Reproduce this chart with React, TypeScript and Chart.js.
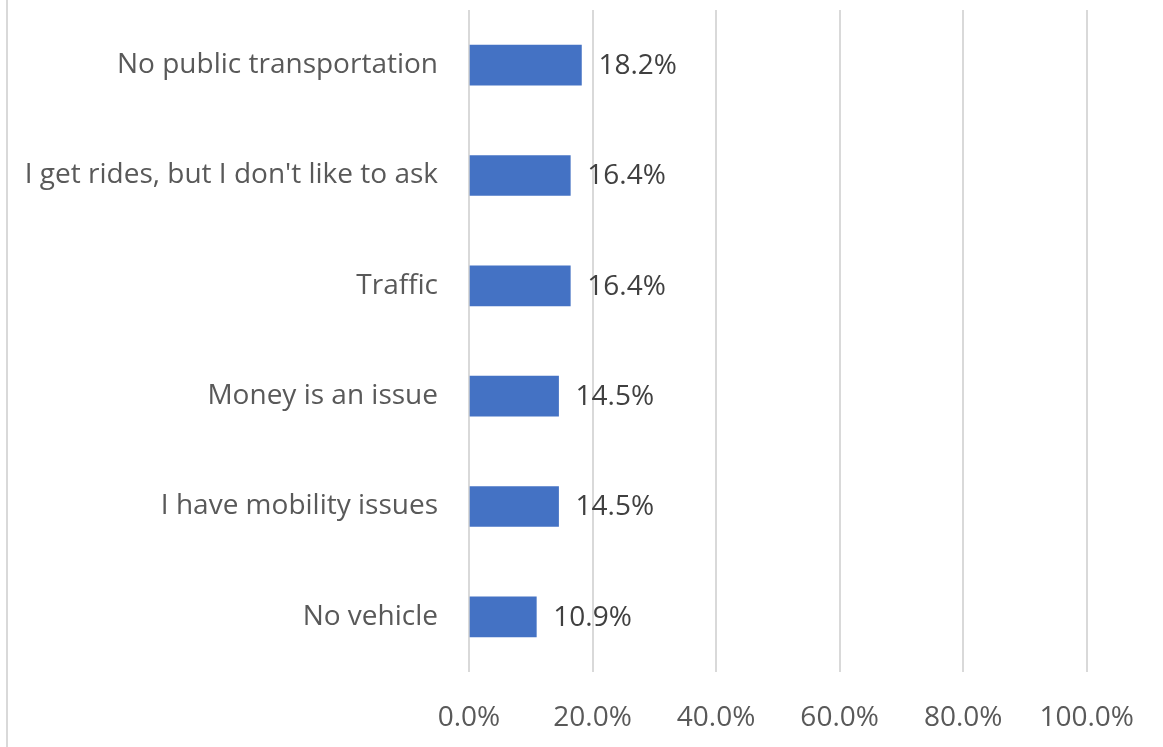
import React, { useEffect, useRef } from "react";
import { Chart, registerables } from "chart.js";

Chart.register(...registerables);

const categories = [
  "No public transportation",
  "I get rides, but I don't like to ask",
  "Traffic",
  "Money is an issue",
  "I have mobility issues",
  "No vehicle",
];
const values = [18.2, 16.4, 16.4, 14.5, 14.5, 10.9];
const xTicks = [0, 20, 40, 60, 80, 100];

const FONT = "'Open Sans', sans-serif";
const FONT_SIZE = 28;

const dataLabelPlugin = {
  id: "dataLabels",
  afterDatasetsDraw(chart: any) {
    const ctx = chart.ctx;
    const meta = chart.getDatasetMeta(0);
    ctx.save();
    ctx.font = `${FONT_SIZE}px ${FONT}`;
    ctx.fillStyle = "#404040";
    ctx.textAlign = "left";
    ctx.textBaseline = "middle";
    meta.data.forEach((bar: any, i: number) => {
      ctx.fillText(values[i].toFixed(1) + "%", bar.x + 17, bar.y + 1);
    });
    ctx.restore();
  },
};

export default function App() {
  const ref = useRef<HTMLCanvasElement | null>(null);
  useEffect(() => {
    if (!ref.current) return;
    const chart = new Chart(ref.current, {
      type: "bar",
      data: {
        labels: categories,
        datasets: [
          {
            data: values,
            backgroundColor: "#4472C4",
            borderWidth: 0,
            barThickness: 40,
          },
        ],
      },
      options: {
        indexAxis: "y",
        animation: false,
        responsive: false,
        maintainAspectRatio: false,
        layout: { padding: { top: 10, right: 74, left: 0, bottom: 0 } },
        plugins: { legend: { display: false }, tooltip: { enabled: false } },
        scales: {
          x: {
            min: 0,
            max: 100,
            afterBuildTicks(scale: any) {
              scale.ticks = xTicks.map((v) => ({ value: v }));
            },
            afterFit(scale: any) {
              scale.height = 75;
            },
            grid: { color: "#d9d9d9", lineWidth: 2, drawTicks: false },
            border: { display: false },
            ticks: {
              padding: 29,
              color: "#595959",
              font: { family: FONT, size: FONT_SIZE },
              callback: (v: any) => Number(v).toFixed(1) + "%",
            },
          },
          y: {
            afterFit(scale: any) {
              scale.width = 469;
              scale.paddingTop = 0;
              scale.paddingBottom = 0;
            },
            grid: { display: false, drawTicks: false },
            border: { display: false },
            ticks: {
              padding: 31,
              color: "#595959",
              font: { family: FONT, size: FONT_SIZE },
            },
          },
        },
      },
      plugins: [dataLabelPlugin],
    });
    return () => chart.destroy();
  }, []);
  return (
    <div
      style={{
        position: "absolute",
        left: 0,
        top: 0,
        width: 1163,
        height: 747,
        background: "#fff",
      }}
    >
      <div
        style={{
          position: "absolute",
          left: 6,
          top: 0,
          width: 2,
          height: 747,
          background: "#d9d9d9",
        }}
      />
      <canvas ref={ref} width={1163} height={747} style={{ position: "absolute", left: 0, top: 0 }} />
    </div>
  );
}
